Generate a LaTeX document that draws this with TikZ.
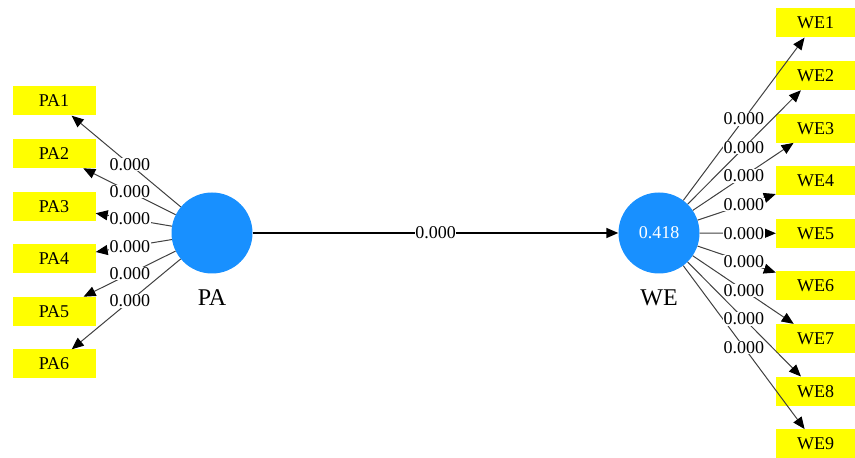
\documentclass[tikz,border=0pt]{standalone}
\usepackage{fontspec}
\setmainfont{Liberation Serif}
\usetikzlibrary{arrows.meta,positioning}
\definecolor{lvblue}{RGB}{24,144,255}
\definecolor{mvyellow}{RGB}{255,255,0}
\tikzset{
  latent/.style={circle, fill=lvblue, minimum size=81pt, inner sep=0pt,
                 text=white, font=\fontsize{18}{18}\selectfont},
  item/.style={rectangle, fill=mvyellow, minimum width=83pt, minimum height=29pt,
               inner sep=0pt, font=\fontsize{18}{18}\selectfont},
  load/.style={draw=black!75, line width=1pt,
               -{Triangle[length=12pt,width=10pt,color=black]}},
  regpath/.style={draw=black, line width=1.6pt,
               -{Triangle[length=12pt,width=10pt]}},
  val/.style={fill=white, inner sep=0.6pt, font=\fontsize{18}{18}\selectfont},
  lvname/.style={font=\fontsize{24}{24}\selectfont}
}

\begin{document}
\begin{tikzpicture}[x=1pt, y=1pt]
  \useasboundingbox (0,0) rectangle (855,458);
  % --- latent variables ---
  \node[latent] (PA) at (212,225) {};
  \node[latent] (WE) at (659,225) {0.418};
  \node[lvname] (PAname) at (212,160) {PA};
  \node[lvname] (WEname) at (659,160) {WE};

  % --- indicators ---
  \foreach \i in {1,...,6}
    \node[item] (PA\i) at (54,{357-52.6*(\i-1)}) {PA\i};
  \foreach \i in {1,...,9}
    \node[item, minimum width=79pt] (WE\i) at (815.5,{435-52.6*(\i-1)}) {WE\i};

  % outer loadings
  \foreach \i in {1,...,6}
    \draw[load] (PA) -- (PA\i);
  \foreach \i in {1,...,9}
    \draw[load] (WE) -- (WE\i);
  \foreach \i in {1,...,6}
    \path (PA.center) -- (PA\i.center) node[val, pos=0.52] {0.000};
  \foreach \i in {1,...,9}
    \path (WE.center) -- (WE\i.center) node[val, pos=0.543] {0.000};

  % path coefficient
  \draw[regpath] (PA) -- node[val] {0.000} (WE);
\end{tikzpicture}
\end{document}
